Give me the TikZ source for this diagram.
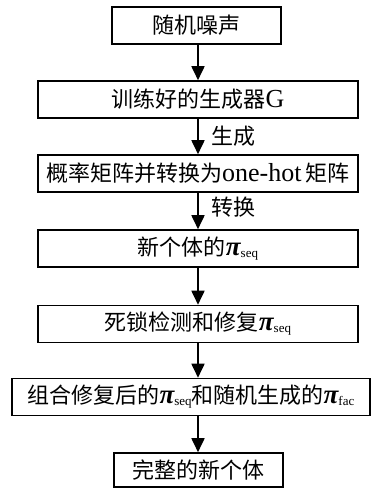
\documentclass[tikz,border=0pt]{standalone}
\usepackage{fontspec}
\setmainfont{Liberation Serif}
\newfontfamily\cjk{Noto Sans CJK SC}
\usetikzlibrary{arrows.meta}
\newcommand{\latin}[1]{{\fontsize{26}{26}\selectfont\rmfamily #1}}
\newcommand{\pisub}[1]{{\fontsize{27}{27}\selectfont\rmfamily\bfseries\itshape π}\raisebox{-2pt}{\fontsize{13}{13}\selectfont\rmfamily #1}}
\begin{document}
\begin{tikzpicture}[x=1pt,y=-1pt,
  box/.style={draw, line width=1.6pt, inner sep=0pt, minimum height=37pt,
    font=\fontsize{22}{22}\selectfont\cjk},
  arr/.style={line width=1.8pt, -{Triangle[width=13pt,length=14pt]}},
  lbl/.style={anchor=west, inner sep=0pt, font=\fontsize{22}{22}\selectfont\cjk}
]
\useasboundingbox (0,0) rectangle (381,488);
\node[box, minimum width=169pt] (b1) at (196.5,25.5) {随机噪声};
\node[box, minimum width=320pt] (b2) at (198,99.5) {训练好的生成器\latin{G}};
\node[box, minimum width=320pt] (b3) at (198,173.5) {概率矩阵并转换为\latin{one-hot\,}矩阵};
\node[box, minimum width=320pt] (b4) at (198,248.5) {新个体的\pisub{seq}};
\node[box, minimum width=320pt] (b5) at (198,324) {死锁检测和修复\pisub{seq}};
\node[box, minimum width=358pt] (b6) at (191,397) {组合修复后的\pisub{seq}和随机生成的\pisub{fac}};
\node[box, minimum width=169pt, minimum height=34pt] (b7) at (198.5,470) {完整的新个体};
\coordinate (ax) at (198,0);
\draw[arr] (b1.south -| ax) -- (b2.north -| ax);
\draw[arr] (b2.south -| ax) -- (b3.north -| ax);
\draw[arr] (b3.south -| ax) -- (b4.north -| ax);
\draw[arr] (b4.south -| ax) -- (b5.north -| ax);
\draw[arr] (b5.south -| ax) -- (b6.north -| ax);
\draw[arr] (b6.south -| ax) -- (b7.north -| ax);
\node[lbl] (l1) at (211,136) {生成};
\node[lbl] (l2) at (211,207) {转换};
\end{tikzpicture}
\end{document}
